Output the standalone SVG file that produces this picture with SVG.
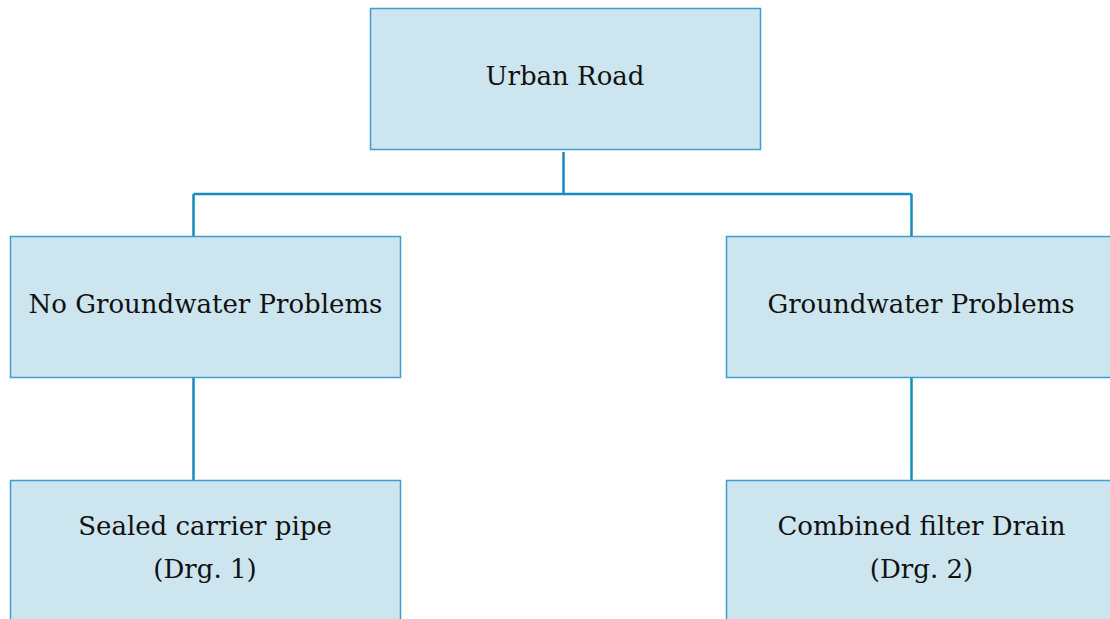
<svg xmlns="http://www.w3.org/2000/svg" width="1110" height="619" viewBox="0 0 1110 619">
<style>
.box{fill:#cce5ef;stroke:#3c9fcf;stroke-width:1.5}
.lbl{font-family:"DejaVu Serif",serif;font-size:26px;fill:#111;text-anchor:middle}
.conn{fill:none;stroke:#168bc1;stroke-width:2.5}
</style>
<rect width="1110" height="619" fill="#fff"/>
<g id="connectors">
<path class="conn" d="M563.5 152V194M193.5 194H911.5M193.5 194V236.5M911.5 194V236.5M193.5 377.5V480.5M911.5 377.5V480.5"/>
</g>
<g id="urban-road">
<rect class="box" x="370.5" y="8.5" width="390" height="141"/>
<text class="lbl" x="565" y="85">Urban Road</text>
</g>
<g id="no-groundwater">
<rect class="box" x="10.5" y="236.5" width="390" height="141"/>
<text class="lbl" x="205.5" y="313">No Groundwater Problems</text>
</g>
<g id="groundwater">
<rect class="box" x="726.5" y="236.5" width="390" height="141"/>
<text class="lbl" x="921" y="313">Groundwater Problems</text>
</g>
<g id="sealed-pipe">
<rect class="box" x="10.5" y="480.5" width="390" height="150"/>
<text class="lbl" x="205" y="535">Sealed carrier pipe</text>
<text class="lbl" x="205" y="578">(Drg. 1)</text>
</g>
<g id="filter-drain">
<rect class="box" x="726.5" y="480.5" width="390" height="150"/>
<text class="lbl" x="921.5" y="535">Combined filter Drain</text>
<text class="lbl" x="921.5" y="578">(Drg. 2)</text>
</g>
</svg>
